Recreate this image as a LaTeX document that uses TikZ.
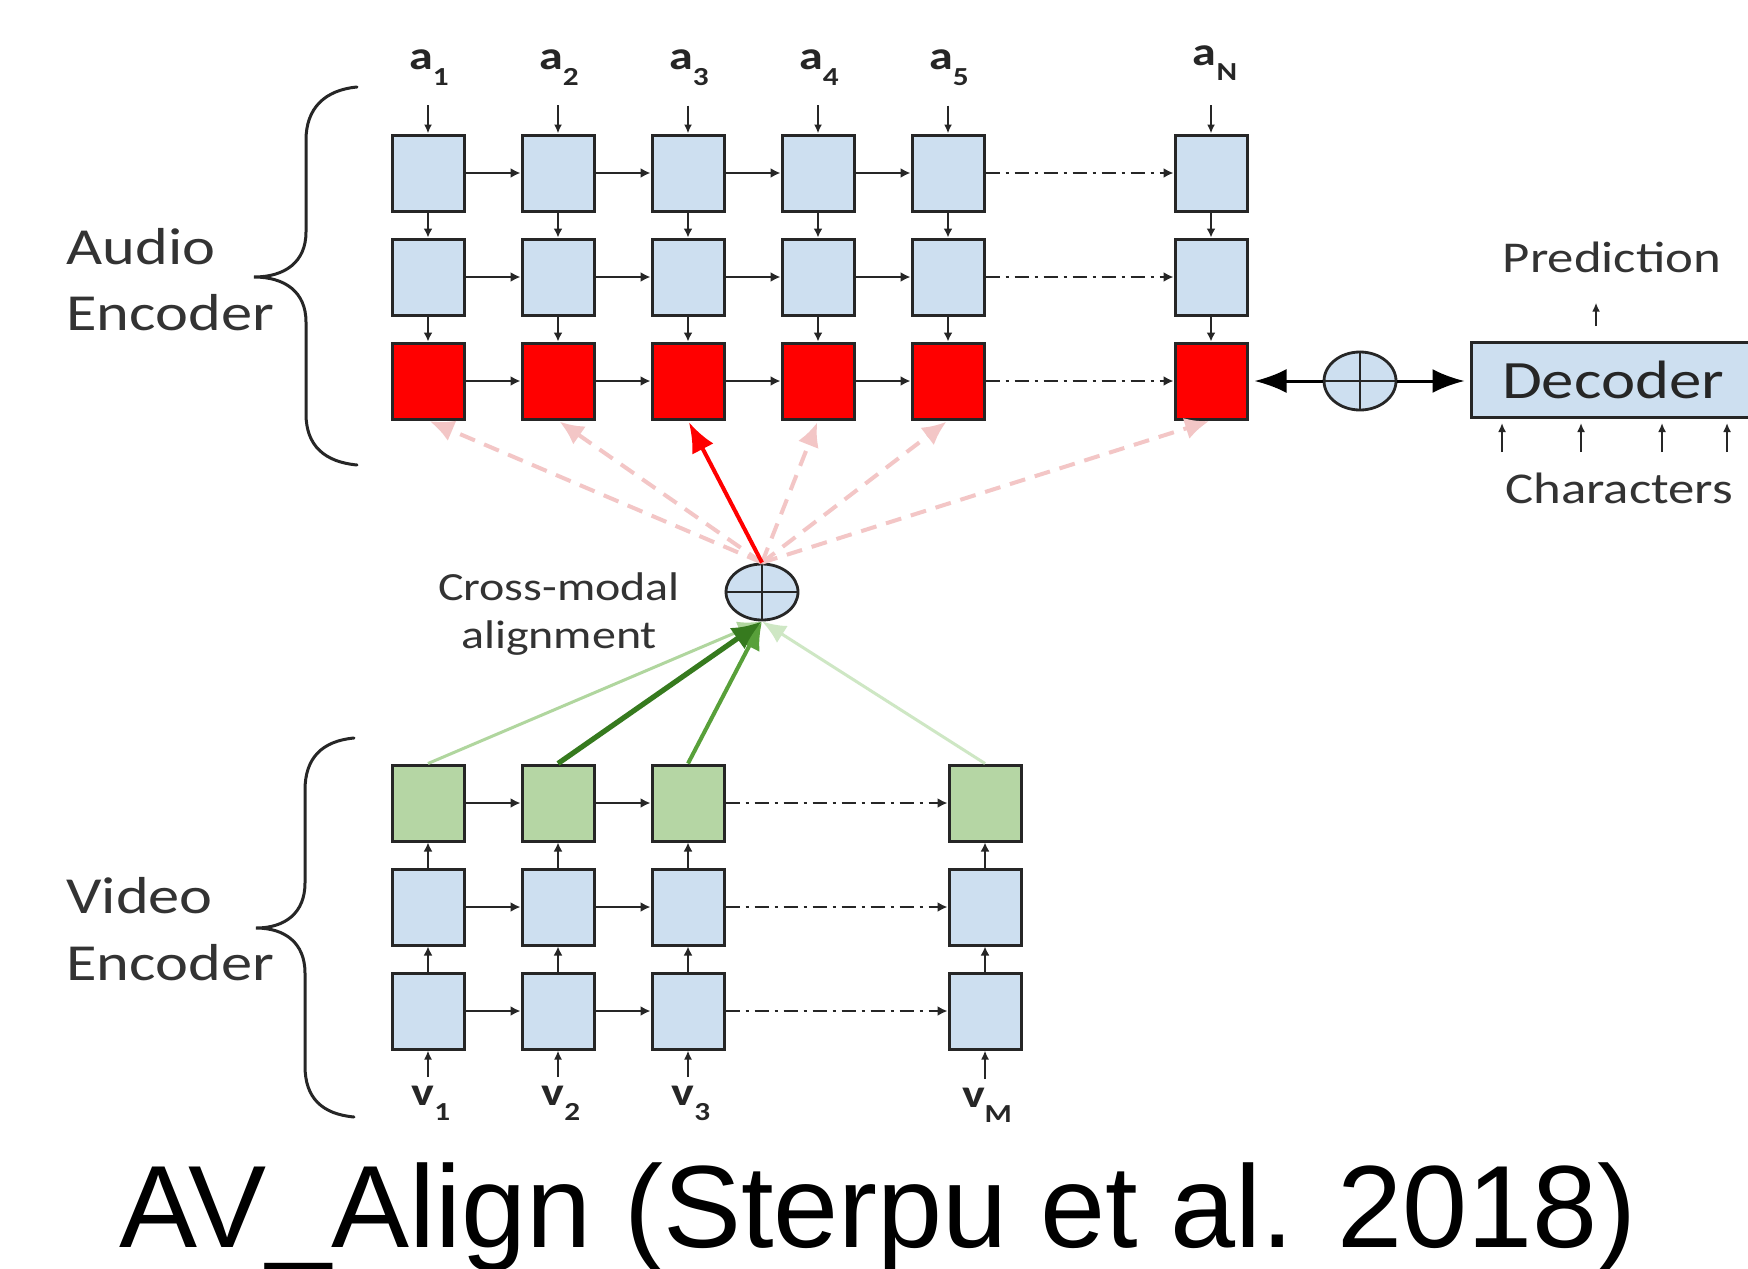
\documentclass[tikz,border=0pt]{standalone}
\usepackage{fontspec}
\setmainfont{Carlito}[FakeStretch=1.2]
\newfontfamily\capfont{Liberation Sans}
\usetikzlibrary{arrows.meta,shapes.geometric}

\definecolor{cellblue}{RGB}{205,223,240}
\definecolor{cellred}{RGB}{255,0,0}
\definecolor{cellgreen}{RGB}{181,214,164}
\definecolor{edge}{RGB}{38,38,38}
\definecolor{pinkdash}{RGB}{243,198,198}
\definecolor{greenlight}{RGB}{176,214,158}
\definecolor{greenpale}{RGB}{206,231,196}
\definecolor{greendark}{RGB}{54,122,30}
\definecolor{greenmid}{RGB}{88,160,58}

% token with a lowered index, e.g. a_1
\newcommand\tok[2]{\textbf{#1\raisebox{-7.5pt}{\fontsize{13pt}{13pt}\selectfont #2}}}

\tikzset{
  cell/.style={draw=edge, line width=1.5pt, minimum width=36pt, minimum height=38pt, inner sep=0pt},
  bcell/.style={cell, fill=cellblue},
  rcell/.style={cell, fill=cellred},
  gcell/.style={cell, fill=cellgreen},
  oplus/.style={ellipse, draw=edge, line width=1.4pt, fill=cellblue, minimum width=36pt, minimum height=28pt, inner sep=0pt},
  link/.style={draw=edge, line width=1.4pt, -{Latex[length=5pt,width=5pt]}},
  vlink/.style={draw=edge, line width=1.2pt, -{Latex[length=4.5pt,width=4.5pt]}},
  skiplink/.style={link, dash pattern=on 7pt off 3pt on 1.5pt off 3pt},
  inlink/.style={draw=edge, line width=1pt, -{Latex[length=4.5pt,width=4pt]}},
  bigarrow/.style={draw=black, line width=1.5pt, -{Latex[length=16pt,width=12pt]}},
  attn/.style={draw=pinkdash, line width=2pt, dash pattern=on 8pt off 5pt, -{Latex[length=12pt,width=11pt]}},
  attnmax/.style={draw=cellred, line width=2pt, -{Latex[length=15pt,width=12pt]}},
  toklab/.style={inner sep=0pt, font=\fontsize{20pt}{22pt}\selectfont, text=edge},
  enclab/.style={inner sep=0pt, anchor=base west, font=\fontsize{26pt}{30pt}\selectfont, text=black!80},
  sidelab/.style={inner sep=0pt, anchor=base, font=\fontsize{22pt}{26pt}\selectfont, text=black!80},
  brace/.style={draw=edge, line width=1.5pt, line cap=round},
}

\begin{document}
\begin{tikzpicture}[x=0.5pt, y=-0.5pt]
\useasboundingbox (0,0) rectangle (1748,1268);
\clip (0,0) rectangle (1748,1268);
\fill[white] (0,0) rectangle (1748,1268);

% ---------------- audio encoder ----------------
\foreach \i/\x in {1/428,2/558,3/688,4/818,5/948,6/1211} {
  \node[bcell] (A1\i) at (\x,173) {};
  \node[bcell] (A2\i) at (\x,277) {};
  \node[rcell] (A3\i) at (\x,381) {};
  \draw[vlink] (A1\i.south) -- (A2\i.north);
  \draw[vlink] (A2\i.south) -- (A3\i.north);
}
\foreach \r in {1,2,3} {
  \foreach \i [evaluate=\i as \j using int(\i+1)] in {1,...,4} {
    \draw[link] (A\r\i.east) -- (A\r\j.west);
  }
  \draw[skiplink] (A\r5.east) -- (A\r6.west);
}

% audio inputs
\foreach \i/\x/\s in {1/429/1,2/559/2,3/689/3,4/819/4,5/949/5} {
  \node[toklab, anchor=base] (la\i) at (\x,70) {\tok{a}{\s}};
  \draw[inlink, shorten <=10pt] (la\i.south -| A1\i.north) -- (A1\i.north);
}
\node[toklab, anchor=base] (la6) at (1215,66) {\tok{a}{N}};
\draw[inlink, shorten <=12pt] (la6.south -| A16.north) -- (A16.north);

% ---------------- video encoder ----------------
\foreach \i/\x in {1/428,2/558,3/688,4/985} {
  \node[gcell] (V1\i) at (\x,803) {};
  \node[bcell] (V2\i) at (\x,907) {};
  \node[bcell] (V3\i) at (\x,1011) {};
  \draw[vlink] (V3\i.north) -- (V2\i.south);
  \draw[vlink] (V2\i.north) -- (V1\i.south);
}
\foreach \r in {1,2,3} {
  \draw[link] (V\r1.east) -- (V\r2.west);
  \draw[link] (V\r2.east) -- (V\r3.west);
  \draw[skiplink] (V\r3.east) -- (V\r4.west);
}

% video inputs
\foreach \i/\x/\s in {1/431/1,2/561/2,3/691/3} {
  \node[toklab, anchor=base] (lv\i) at (\x,1105) {\tok{v}{\s}};
  \draw[inlink, shorten <=4pt] (lv\i.north -| V3\i.south) -- (V3\i.south);
}
\node[toklab, anchor=base] (lv4) at (987,1107) {\tok{v}{M}};
\draw[inlink, shorten <=4pt] (lv4.north -| V34.south) -- (V34.south);

% ---------------- cross-modal alignment ----------------
\node[oplus] (cm) at (762,592) {};
\draw[edge, line width=1.4pt] (cm.north) -- (cm.south) (cm.west) -- (cm.east);

\node[inner sep=0pt, anchor=base, font=\fontsize{20pt}{24pt}\selectfont, text=black!80] (cmt1) at (559,600) {Cross-modal};
\node[inner sep=0pt, anchor=base, font=\fontsize{20pt}{24pt}\selectfont, text=black!80] (cmt2) at (559,648) {alignment};

% video states feeding the alignment
\draw[greenpale, line width=1.5pt, -{Latex[length=12pt,width=10pt]}] (V14.north) -- (cm.south);
\draw[greenlight, line width=1.5pt, -{Latex[length=12pt,width=10pt]}] (V11.north) -- (cm.south);
\draw[greenmid, line width=2pt, -{Latex[length=14pt,width=12pt]}] (V13.north) -- (cm.south);
\draw[greendark, line width=2.6pt, -{Latex[length=15pt,width=13pt]}] (V12.north) -- (cm.south);

% attention onto the audio top layer
\foreach \i in {1,2,4,5,6} {
  \draw[attn, shorten >=1pt] (cm.north) -- (A3\i.south);
}
\draw[attnmax, shorten >=1pt] (cm.north) -- (A33.south);

% ---------------- decoder ----------------
\node[oplus, minimum height=29pt] (dp) at (1360,381) {};
\draw[edge, line width=1.4pt] (dp.north) -- (dp.south) (dp.west) -- (dp.east);

\node[draw=edge, line width=1.5pt, fill=cellblue, minimum width=142pt, minimum height=37.5pt, inner sep=0pt,
      font=\fontsize{27pt}{30pt}\selectfont, text=black!85] (dec) at (1613,380) {Decoder};

\draw[bigarrow, shorten >=3pt] (dp.west) -- (A36.east);
\draw[bigarrow, shorten >=2.5pt] (dp.east) -- (dec.west |- dp.east);

\node[sidelab] (pred) at (1612,272) {Prediction};
\coordinate (px) at (1596,0);
\draw[inlink, shorten <=7.5pt, shorten >=15pt] (dec.north -| px) -- (pred.south -| px);

\node[sidelab] (chars) at (1619,503) {Characters};
\foreach \k/\x in {1/1502,2/1581,3/1662,4/1727} {
  \coordinate (cx\k) at (\x,0);
  \draw[inlink, shorten <=10pt, shorten >=2pt] (chars.north -| cx\k) -- (dec.south -| cx\k);
}

% ---------------- braces and encoder names ----------------
\draw[brace] (357,87) .. controls (325,90) and (306,108) .. (306,140) -- (306,232)
  .. controls (306,262) and (285,277) .. (254,277)
  .. controls (285,277) and (306,292) .. (306,322) -- (306,414)
  .. controls (306,446) and (325,462) .. (357,465);
\draw[brace] (354,738) .. controls (322,741) and (305,758) .. (305,790) -- (305,883)
  .. controls (305,913) and (285,928) .. (256,928)
  .. controls (285,928) and (305,943) .. (305,973) -- (305,1066)
  .. controls (305,1098) and (322,1114) .. (354,1117);

\node[enclab] (aud1) at (66,264) {Audio};
\node[enclab] (aud2) at (66,330) {Encoder};
\node[enclab] (vid1) at (66,913) {Video};
\node[enclab] (vid2) at (66,980) {Encoder};

% ---------------- caption ----------------
\node[inner sep=0pt, anchor=base, font=\capfont\fontsize{58.5pt}{62pt}\selectfont] (cap) at (878,1247) {AV\_Align (Sterpu et al. 2018)};
\end{tikzpicture}
\end{document}
